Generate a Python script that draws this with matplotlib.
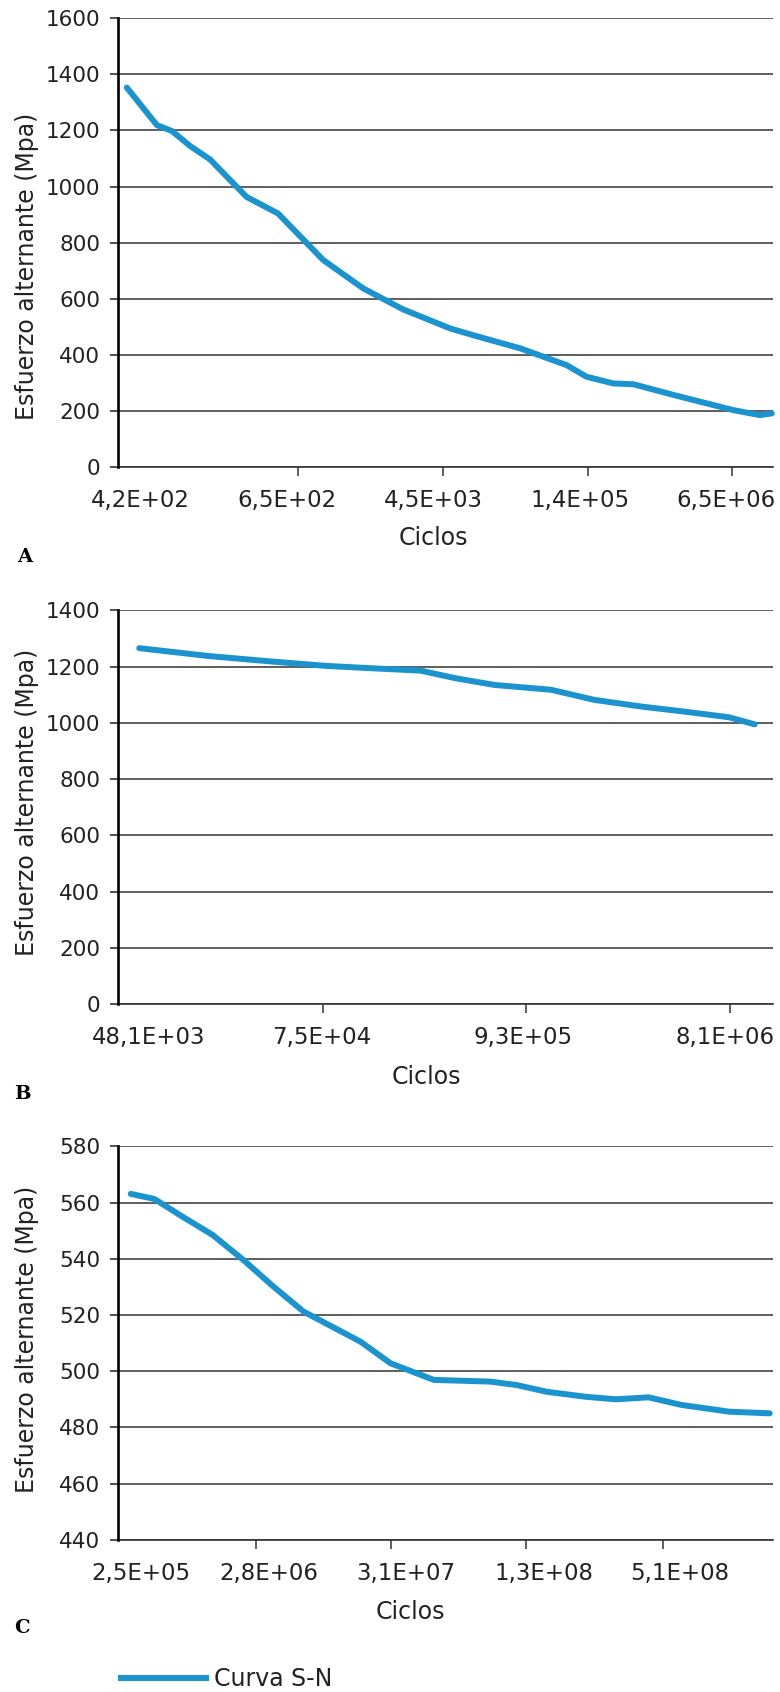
import matplotlib
matplotlib.use("Agg")
import matplotlib.pyplot as plt
from matplotlib.lines import Line2D
import numpy as np

plt.rcParams['font.family'] = ['DejaVu Sans']

# ---------------- data (x = position along category axis, 0..100) ----------------
# Panel A
a_x = [1.3, 5.9, 8.2, 11.0, 14.0, 19.6, 24.4, 31.3, 37.4, 43.5, 50.7, 54.2, 61.4,
       68.5, 71.5, 75.6, 78.7, 84.8, 93.9, 98.0, 99.8]
a_y = [1353, 1219, 1198, 1144, 1097, 963, 904, 738, 637, 562, 494, 470, 423,
       363, 322, 298, 295, 257, 203, 185, 191]
a_ticks = [27.4, 49.6, 71.8, 93.7]
a_labpos = [3.3, 25.8, 48.2, 70.5, 92.8]
a_labels = ["4,2E+02", "6,5E+02", "4,5E+03", "1,4E+05", "6,5E+06"]
a_ylim = (0, 1600)
a_ystep = 200

# Panel B
b_x = [3.2, 13.8, 23.7, 31.7, 38.3, 46.2, 51.5, 57.5, 66.1, 72.7, 80.0, 86.6, 93.3, 97.2]
b_y = [1266, 1238, 1218, 1203, 1195, 1186, 1159, 1135, 1118, 1082, 1058, 1040, 1020, 995]
b_ticks = [31.3, 62.2, 93.4]
b_labpos = [4.7, 31.1, 61.9, 92.7]
b_labels = ["48,1E+03", "7,5E+04", "9,3E+05", "8,1E+06"]
b_ylim = (0, 1400)
b_ystep = 200

# Panel C
c_x = [1.9, 5.5, 9.8, 14.4, 19.1, 23.7, 28.3, 37.0, 41.6, 48.2, 56.8, 60.8, 65.4,
       71.4, 76.0, 81.0, 86.0, 93.3, 99.5]
c_y = [563.1, 561.3, 555.0, 548.5, 539.6, 530.1, 521.2, 510.5, 502.8, 496.9, 496.3,
       495.1, 492.7, 490.9, 490.0, 490.7, 488.0, 485.6, 485.0]
c_ticks = [21.0, 41.6, 62.3, 83.2]
c_labpos = [3.5, 23.0, 43.9, 65.0, 85.8]
c_labels = ["2,5E+05", "2,8E+06", "3,1E+07", "1,3E+08", "5,1E+08"]
c_ylim = (440, 580)
c_ystep = 20

series_name = "Curva S-N"
ylabel = "Esfuerzo alternante (Mpa)"
xlabel = "Ciclos"
panel_letters = ["A", "B", "C"]

# ---------------- layout ----------------
W, H = 780, 1692
DPI = 100
fig = plt.figure(figsize=(W / DPI, H / DPI), dpi=DPI)
fig.patch.set_facecolor("white")

LINE_COLOR = "#1b93cf"
TXT = "#222222"
FS_YT = 15.5
FS_XT = 16.5
FS_LAB = 17

def px2fig(x, y):
    return x / W, 1 - y / H

ax_left, ax_right = 118.3, 773.0
panels = [
    (18.3, 467.0, a_x, a_y, a_ticks, a_labpos, a_labels, a_ylim, a_ystep, 266, (433, 538), (25, 557)),
    (610.5, 1004.0, b_x, b_y, b_ticks, b_labpos, b_labels, b_ylim, b_ystep, 802, (426, 1077), (22, 1094)),
    (1146.4, 1539.8, c_x, c_y, c_ticks, c_labpos, c_labels, c_ylim, c_ystep, 1339, (410, 1612), (22, 1628)),
]

for i, (top, bot, xs, ys, ticks, labpos, labels, ylim, ystep, ylc, xlp, lp) in enumerate(panels):
    ax = fig.add_axes([ax_left / W, 1 - bot / H, (ax_right - ax_left) / W, (bot - top) / H])
    ax.set_xlim(0, 100)
    ax.set_ylim(*ylim)
    yt = np.arange(ylim[0], ylim[1] + ystep / 2, ystep)
    ax.set_yticks(yt)
    ax.set_yticklabels([f"{int(v)}" for v in yt])
    ax.grid(axis="y", color="#333333", linewidth=1.1)
    ax.set_axisbelow(True)
    for s in ("top", "right"):
        ax.spines[s].set_visible(False)
    ax.spines["left"].set_color("black")
    ax.spines["left"].set_linewidth(1.9)
    ax.spines["bottom"].set_color("#333333")
    ax.spines["bottom"].set_linewidth(1.2)
    ax.spines["left"].set_zorder(5)

    # major ticks (marks only)
    ax.set_xticks(ticks)
    ax.set_xticklabels([""] * len(ticks))
    ax.tick_params(axis="x", which="major", direction="out", length=6.5, width=1.1,
                   color="#333333")
    # minor ticks carry the category labels
    ax.set_xticks(labpos, minor=True)
    ax.set_xticklabels(labels, minor=True)
    ax.tick_params(axis="x", which="minor", length=0, pad=16, labelsize=FS_XT,
                   labelcolor=TXT)
    ax.tick_params(axis="y", direction="out", length=6, width=1.1, color="#222222",
                   pad=7, labelsize=FS_YT, labelcolor=TXT)

    ax.plot(xs, ys, color=LINE_COLOR, linewidth=4.3, solid_capstyle="round",
            solid_joinstyle="round", zorder=4, clip_on=False)

    fx, fy = px2fig(27, ylc)
    fig.text(fx, fy, ylabel, rotation=90, ha="center", va="center", fontsize=FS_LAB,
             color=TXT)
    fx, fy = px2fig(*xlp)
    fig.text(fx, fy, xlabel, ha="center", va="center", fontsize=FS_LAB, color=TXT)
    fx, fy = px2fig(*lp)
    fig.text(fx, fy, panel_letters[i], ha="center", va="center", fontsize=14,
             fontweight="bold", family="DejaVu Serif", color="black")

leg = fig.legend([Line2D([0], [0], color=LINE_COLOR, linewidth=4.3)], [series_name],
                 loc="center left", bbox_to_anchor=px2fig(120.7, 1679),
                 frameon=False, fontsize=FS_LAB, handlelength=3.6, handletextpad=0.35,
                 borderpad=0, borderaxespad=0)
for t in leg.get_texts():
    t.set_color(TXT)

fig.savefig("out.png", dpi=DPI, facecolor="white")
